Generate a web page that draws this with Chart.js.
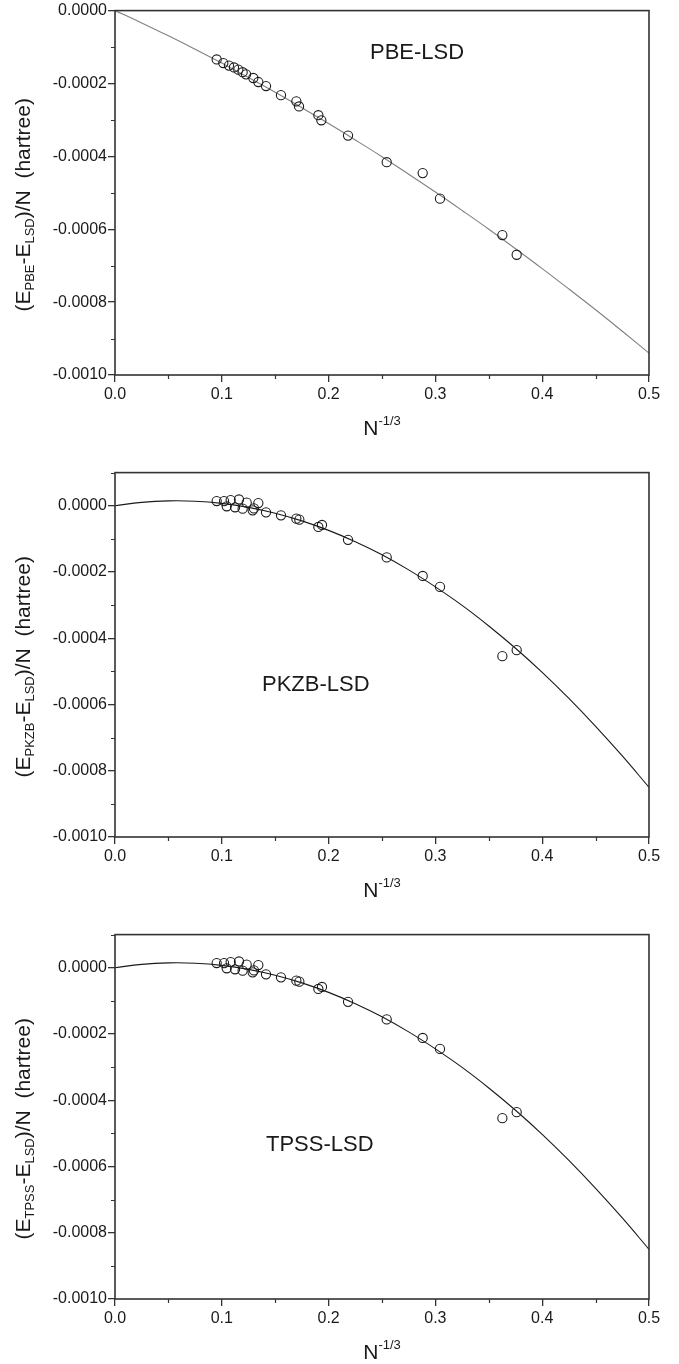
<!DOCTYPE html>
<html>
<head>
<meta charset="utf-8">
<script src="https://cdn.jsdelivr.net/npm/chart.js@4.4.0/dist/chart.umd.min.js"></script>
<style>
html, body { margin: 0; padding: 0; background: #fff; overflow: hidden; }
.panel { position: absolute; left: 0; width: 679px; height: 462px; }
</style>
</head>
<body>
<div class="panel" style="top:0px"><canvas id="pbeChart" width="679" height="462"></canvas></div>
<div class="panel" style="top:462px"><canvas id="pkzbChart" width="679" height="462"></canvas></div>
<div class="panel" style="top:924px"><canvas id="tpssChart" width="679" height="462"></canvas></div>
<script>
// N^-1/3 values and energy differences per atom (hartree)
var pbeX = [0.0952, 0.1014, 0.1067, 0.1114, 0.1155, 0.1195, 0.1227, 0.1295, 0.1342, 0.1414, 0.1554,
            0.1698, 0.1723, 0.1904, 0.1932, 0.2182, 0.2544, 0.2881, 0.3043, 0.3627, 0.3761];
var pbeY = [-0.000134, -0.000144, -0.000151, -0.000156, -0.000162, -0.000169, -0.000175, -0.000185,
            -0.000196, -0.000207, -0.000232, -0.000249, -0.000263, -0.000287, -0.000301, -0.000343,
            -0.000416, -0.000446, -0.000516, -0.000616, -0.000670];

var pkzbX = [0.0952, 0.1021, 0.1046, 0.1083, 0.1124, 0.1161, 0.1195, 0.1233, 0.1289, 0.1301, 0.1342, 0.1414,
             0.1554, 0.1698, 0.1726, 0.1904, 0.1938, 0.2182, 0.2544, 0.2881, 0.3043, 0.3627, 0.3761];
var pkzbY = [0.0000141, 0.0000140, -0.0000018, 0.0000170, -0.0000048, 0.0000190, -0.0000088, 0.0000093,
             -0.0000140, -0.0000080, 0.0000080, -0.0000200, -0.0000290, -0.0000390, -0.0000420, -0.0000640,
             -0.0000580, -0.000103, -0.000156, -0.000212, -0.000245, -0.000454, -0.000436];

var tpssX = [0.0952, 0.1021, 0.1046, 0.1083, 0.1124, 0.1161, 0.1195, 0.1233, 0.1289, 0.1301, 0.1342, 0.1414,
             0.1554, 0.1698, 0.1726, 0.1904, 0.1938, 0.2182, 0.2544, 0.2881, 0.3043, 0.3627, 0.3761];
var tpssY = [0.0000141, 0.0000140, -0.0000018, 0.0000170, -0.0000048, 0.0000190, -0.0000088, 0.0000093,
             -0.0000140, -0.0000080, 0.0000080, -0.0000200, -0.0000290, -0.0000390, -0.0000420, -0.0000640,
             -0.0000580, -0.000103, -0.000156, -0.000212, -0.000245, -0.000454, -0.000436];

// fitted curves, read every 0.025 along N^-1/3
var fitX = [0, 0.025, 0.05, 0.075, 0.1, 0.125, 0.15, 0.175, 0.2, 0.225, 0.25, 0.275, 0.3,
            0.325, 0.35, 0.375, 0.4, 0.425, 0.45, 0.475, 0.5];
var pbeFitY = [0, -0.0000339, -0.0000693, -0.0001059, -0.000144, -0.0001834, -0.000224, -0.0002664,
               -0.00031, -0.000355, -0.000401, -0.000449, -0.000498, -0.0005485, -0.0006, -0.0006535,
               -0.000708, -0.000764, -0.000821, -0.00088, -0.00094];
var pkzbFitY = [0, 0.0000101, 0.0000146, 0.0000136, 0.0000071, -0.000005, -0.0000226, -0.0000457,
                -0.0000744, -0.0001086, -0.000148, -0.0001937, -0.000245, -0.0003009, -0.000363,
                -0.0004302, -0.000503, -0.0005817, -0.000666, -0.0007554, -0.00085];
var tpssFitY = [0, 0.0000101, 0.0000146, 0.0000136, 0.0000071, -0.000005, -0.0000226, -0.0000457,
                -0.0000744, -0.0001086, -0.000148, -0.0001937, -0.000245, -0.0003009, -0.000363,
                -0.0004302, -0.000503, -0.0005817, -0.000666, -0.0007554, -0.00085];

// tick values
var xTicks = [0, 0.1, 0.2, 0.3, 0.4, 0.5];
var xMinor = [0.05, 0.15, 0.25, 0.35, 0.45];
var yTicks = [0, -0.0002, -0.0004, -0.0006, -0.0008, -0.001];
var yMinor = [0.0001, -0.0001, -0.0003, -0.0005, -0.0007, -0.0009];

var ink = '#1a1a1a';
var axisInk = '#333';
var fontFamily = 'Arial, "Liberation Sans", Helvetica, sans-serif';

Chart.defaults.font.family = fontFamily;
Chart.defaults.color = ink;

function toPoints(xs, ys) {
    return xs.map(function(x, i) { return { x: x, y: ys[i] }; });
}

// draws a run of normal / subscript / superscript pieces starting at (x, y)
function drawRich(ctx, parts, x, y) {
    parts.forEach(function(p) {
        var size = p.s == 'n' ? 21 : 13;
        var dy = p.s == 'sub' ? 6 : (p.s == 'sup' ? -8 : 0);
        ctx.font = size + 'px ' + fontFamily;
        ctx.fillText(p.t, x, y + dy);
        x += ctx.measureText(p.t).width;
    });
}

function richWidth(ctx, parts) {
    var w = 0;
    parts.forEach(function(p) {
        ctx.font = (p.s == 'n' ? 21 : 13) + 'px ' + fontFamily;
        w += ctx.measureText(p.t).width;
    });
    return w;
}

var framePlugin = {
    id: 'framePlugin',
    afterDraw: function(chart) {
        var ctx = chart.ctx, a = chart.chartArea;
        var xs = chart.scales.x, ys = chart.scales.y;
        var opts = chart.options.plugins.framePlugin;
        ctx.save();
        ctx.strokeStyle = axisInk;
        ctx.lineWidth = 1.6;
        ctx.strokeRect(a.left, a.top, a.right - a.left, a.bottom - a.top);

        // minor ticks, outward
        ctx.lineWidth = 1.2;
        ctx.beginPath();
        xMinor.forEach(function(v) {
            var px = Math.round(xs.getPixelForValue(v)) + 0.5;
            ctx.moveTo(px, a.bottom);
            ctx.lineTo(px, a.bottom + 4);
        });
        yMinor.forEach(function(v) {
            if (v > ys.max || v < ys.min) return;
            var py = Math.round(ys.getPixelForValue(v)) + 0.5;
            ctx.moveTo(a.left, py);
            ctx.lineTo(a.left - 4, py);
        });
        ctx.stroke();

        ctx.fillStyle = ink;
        ctx.textBaseline = 'middle';

        // x title N^-1/3
        var nParts = [{ t: 'N', s: 'n' }, { t: '-1/3', s: 'sup' }];
        var cx = (a.left + a.right) / 2;
        drawRich(ctx, nParts, cx - richWidth(ctx, nParts) / 2, a.bottom + 54);

        // y title, rotated
        var yParts = [{ t: '(E', s: 'n' }, { t: opts.method, s: 'sub' }, { t: '-E', s: 'n' },
                      { t: 'LSD', s: 'sub' }, { t: ')/N  (hartree)', s: 'n' }];
        var w = richWidth(ctx, yParts);
        ctx.save();
        ctx.translate(24, (a.top + a.bottom) / 2 + 12);
        ctx.rotate(-Math.PI / 2);
        drawRich(ctx, yParts, -w / 2, 0);
        ctx.restore();

        // functional name inside the plot
        ctx.font = '22px ' + fontFamily;
        ctx.fillText(opts.tag, opts.tagX, opts.tagY);
        ctx.restore();
    }
};

function makePanel(id, method, pts, fit, yMax, fitColor, tagX, tagY) {
    var ctx = document.getElementById(id).getContext('2d');
    return new Chart(ctx, {
        type: 'scatter',
        data: {
            datasets: [{
                data: fit,
                showLine: true,
                pointRadius: 0,
                borderColor: fitColor,
                borderWidth: 1.1,
                tension: 0.4,
                order: 2
            }, {
                data: pts,
                pointRadius: 4.6,
                pointBorderWidth: 1.1,
                borderColor: ink,
                backgroundColor: 'rgba(0,0,0,0)',
                order: 1
            }]
        },
        options: {
            responsive: false,
            animation: false,
            layout: { padding: { top: 8, right: 30, left: 0, bottom: 0 } },
            plugins: {
                legend: { display: false },
                tooltip: { enabled: false },
                framePlugin: { method: method, tag: method + '-LSD', tagX: tagX, tagY: tagY }
            },
            scales: {
                x: {
                    type: 'linear',
                    min: 0,
                    max: 0.5,
                    afterBuildTicks: function(s) { s.ticks = xTicks.map(function(v) { return { value: v }; }); },
                    afterFit: function(s) { s.height = 87; },
                    border: { display: false },
                    grid: { drawOnChartArea: false, tickLength: 7, tickColor: axisInk, lineWidth: 1.3 },
                    ticks: {
                        padding: 3,
                        maxRotation: 0,
                        font: { size: 16 },
                        color: ink,
                        callback: function(v) { return v.toFixed(1); }
                    }
                },
                y: {
                    type: 'linear',
                    min: -0.001,
                    max: yMax,
                    afterBuildTicks: function(s) { s.ticks = yTicks.map(function(v) { return { value: v }; }); },
                    afterFit: function(s) { s.width = 115; },
                    border: { display: false },
                    grid: { drawOnChartArea: false, tickLength: 7, tickColor: axisInk, lineWidth: 1.3 },
                    ticks: {
                        padding: 1,
                        font: { size: 16 },
                        color: ink,
                        callback: function(v) { return v.toFixed(4); }
                    }
                }
            }
        },
        plugins: [framePlugin]
    });
}

makePanel('pbeChart', 'PBE', toPoints(pbeX, pbeY), toPoints(fitX, pbeFitY), 0, '#808080', 370, 53);
makePanel('pkzbChart', 'PKZB', toPoints(pkzbX, pkzbY), toPoints(fitX, pkzbFitY), 0.0001, ink, 262, 223);
makePanel('tpssChart', 'TPSS', toPoints(tpssX, tpssY), toPoints(fitX, tpssFitY), 0.0001, ink, 266, 221);
</script>
</body>
</html>
